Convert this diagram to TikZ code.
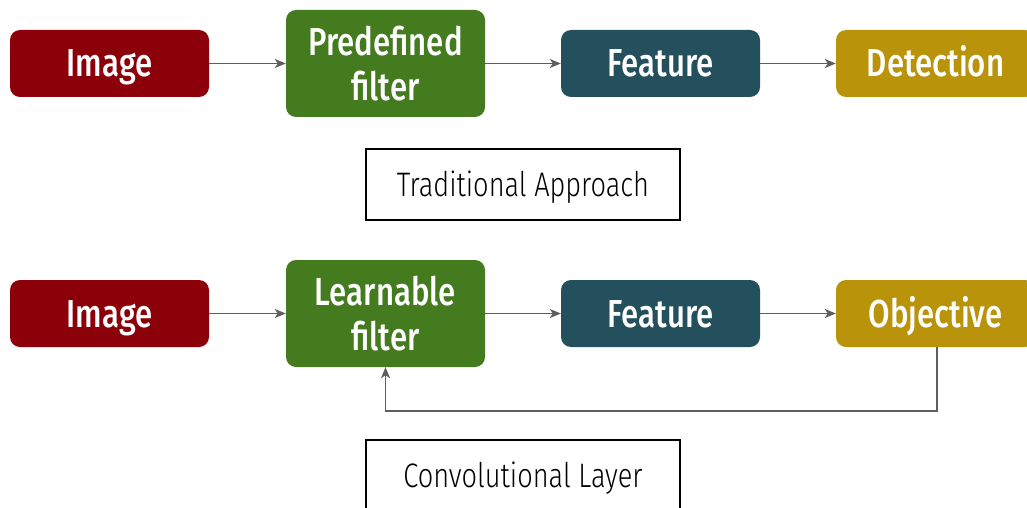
\documentclass[tikz,border=0pt]{standalone}
\usepackage{fontspec}
\usetikzlibrary{arrows.meta}
\newfontfamily\boxfont[FakeStretch=0.8]{Fira Sans Medium}
\newfontfamily\tagfont[FakeStretch=0.8]{Fira Sans Light}
\definecolor{cRed}{HTML}{8C0009}
\definecolor{cGreen}{HTML}{437B1E}
\definecolor{cTeal}{HTML}{24505E}
\definecolor{cGold}{HTML}{B9940A}
\definecolor{cArrow}{HTML}{5E5E5E}
\tikzset{
  block/.style={rectangle, rounded corners=10pt, minimum width=199pt,
    text=white, align=center, inner sep=0pt, font=\boxfont\fontsize{39}{45}\selectfont},
  stage/.style={block, minimum height=67pt, text height=27pt, text depth=0pt},
  tall/.style={block, minimum height=107pt},
  tag/.style={rectangle, draw=black, line width=1.3pt, minimum width=314pt, minimum height=71pt,
    text height=23pt, text depth=0pt,
    inner sep=0pt, font=\tagfont\fontsize{34}{38}\selectfont},
  flow/.style={draw=cArrow, line width=1.7pt, -{Stealth[length=11pt,width=9pt,inset=3pt]}}
}
\begin{document}
\begin{tikzpicture}[x=1pt,y=-1pt]
\useasboundingbox (0,0) rectangle (1027,508);
% traditional pipeline
\node[stage, fill=cRed]   (img1)  at (109.5,63.5) {Image};
\node[tall,  fill=cGreen] (filt1) at (385.5,63.5) {Predefined\\filter};
\node[stage, fill=cTeal]  (feat1) at (660.5,63.5) {Feature};
\node[stage, fill=cGold]  (det1)  at (935.5,63.5) {Detection};
\draw[flow] (img1) -- (filt1);
\draw[flow] (filt1) -- (feat1);
\draw[flow] (feat1) -- (det1);
\node[tag] (trad) at (523,184.5) {Traditional Approach};
% convolutional pipeline
\node[stage, fill=cRed]   (img2)  at (109.5,313.5) {Image};
\node[tall,  fill=cGreen] (filt2) at (385.5,313.5) {Learnable\\filter};
\node[stage, fill=cTeal]  (feat2) at (660.5,313.5) {Feature};
\node[stage, fill=cGold]  (obj2)  at (935.5,313.5) {Objective};
\draw[flow] (img2) -- (filt2);
\draw[flow] (filt2) -- (feat2);
\draw[flow] (feat2) -- (obj2);
\draw[flow] (obj2.south) ++(1.5,0) coordinate (drop) -- ++(0,64) -| (filt2.south);
\node[tag] (conv) at (523,475.5) {Convolutional Layer};
\end{tikzpicture}
\end{document}
